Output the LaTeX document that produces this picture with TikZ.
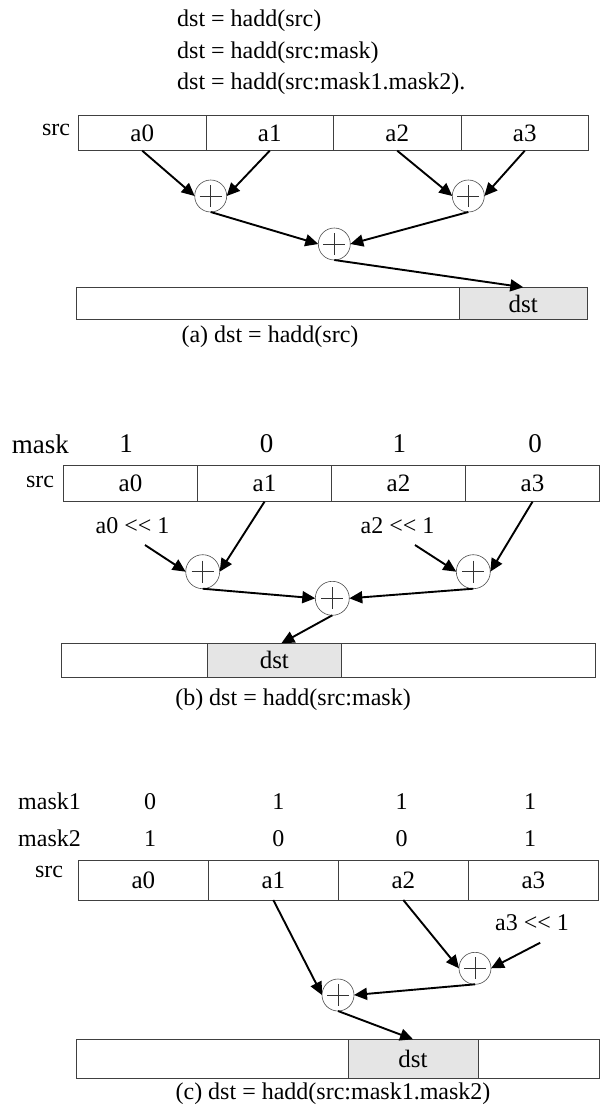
\documentclass[tikz,border=0pt]{standalone}
\usepackage{fontspec}
\setmainfont{Liberation Serif}[Ligatures=NoCommon]
\usetikzlibrary{arrows.meta,calc}
\begin{document}
\begin{tikzpicture}[x=1pt,y=-1pt,
  txt/.style={font=\fontsize{24}{28}\selectfont, inner sep=0pt},
  bigtxt/.style={font=\fontsize{27}{30}\selectfont, inner sep=0pt},
  cellbox/.style={draw=black!75, line width=0.8pt, inner sep=0pt, outer sep=0pt, font=\fontsize{25}{28}\selectfont},
  dstbox/.style={cellbox, fill=black!10},
  addnode/.style={circle, draw=black!70, line width=0.6pt, fill=white, inner sep=0pt, outer sep=0pt,
    path picture={\draw[black!80, line width=0.6pt]
      ($(path picture bounding box.center)+(-11,0)$) -- ($(path picture bounding box.center)+(11,0)$)
      ($(path picture bounding box.center)+(0,-11)$) -- ($(path picture bounding box.center)+(0,11)$);}},
  arr/.style={-{Triangle[length=13pt,width=12pt]}, line width=1.9pt}]
\useasboundingbox (0,0) rectangle (601,1106);

% ---------- header ----------
\node[txt, anchor=base west] (h1) at (177,26.5) {dst = hadd(src)};
\node[txt, anchor=base west] (h2) at (177,58.5) {dst = hadd(src:mask)};
\node[txt, anchor=base west] (h3) at (177,89.5) {dst = hadd(src:mask1.mask2).};

% ---------- panel (a) ----------
\node[txt] (srcA) at (56,130) {src};
\node[cellbox, minimum width=127.5, minimum height=35] (aA0) at (142.25,133.2) {a0};
\node[cellbox, minimum width=127.5, minimum height=35] (aA1) at (269.75,133.2) {a1};
\node[cellbox, minimum width=127.5, minimum height=35] (aA2) at (397.25,133.2) {a2};
\node[cellbox, minimum width=127.5, minimum height=35] (aA3) at (524.75,133.2) {a3};

\node[addnode, minimum size=32] (pA1) at (210.7,196) {};
\node[addnode, minimum size=32] (pA2) at (468.3,196) {};
\node[addnode, minimum size=32] (pA3) at (334.3,244) {};

\node[cellbox, minimum width=382.6, minimum height=32.5] (wA) at (268,303.5) {};
\node[dstbox, minimum width=128, minimum height=32.5] (dA) at (523.3,303.5) {dst};

\draw[arr] (aA0.south) -- (pA1.west);
\draw[arr] (aA1.south) -- (pA1.east);
\draw[arr] (aA2.south) -- (pA2.west);
\draw[arr] (aA3.south) -- (pA2.east);
\draw[arr] (pA1.south) -- (pA3.west);
\draw[arr] (pA2.south) -- (pA3.east);
\draw[arr] (pA3.south) -- (dA.north);

\node[txt] (capA) at (270,337) {(a) dst = hadd(src)};

% ---------- panel (b) ----------
\node[bigtxt, anchor=west] (maskB) at (11.7,444) {mask};
\node[bigtxt] (mB0) at (126,444) {1};
\node[bigtxt] (mB1) at (266.7,444) {0};
\node[bigtxt] (mB2) at (399.3,444) {1};
\node[bigtxt] (mB3) at (535,444) {0};

\node[txt] (srcB) at (40,482) {src};
\node[cellbox, minimum width=134, minimum height=36] (aB0) at (130.5,483.7) {a0};
\node[cellbox, minimum width=134, minimum height=36] (aB1) at (264.5,483.7) {a1};
\node[cellbox, minimum width=134, minimum height=36] (aB2) at (398.5,483.7) {a2};
\node[cellbox, minimum width=134, minimum height=36] (aB3) at (532.5,483.7) {a3};

\node[txt] (lB0) at (132.5,526) {a0 {<}{<} 1};
\node[txt] (lB2) at (397.5,526) {a2 {<}{<} 1};
\coordinate (sB0) at (145,545);
\coordinate (sB2) at (415,545);

\node[addnode, minimum size=34] (pB1) at (202.7,571.7) {};
\node[addnode, minimum size=34] (pB2) at (473.3,571.7) {};
\node[addnode, minimum size=34] (pB3) at (332.3,598.3) {};

\node[cellbox, minimum width=146.4, minimum height=34] (wB1) at (134.5,660.3) {};
\node[dstbox, minimum width=133.3, minimum height=34] (dB) at (274.35,660.3) {dst};
\node[cellbox, minimum width=254.8, minimum height=34] (wB2) at (468.4,660.3) {};

\draw[arr] (sB0) -- (pB1.west);
\draw[arr] (aB1.south) -- (pB1.east);
\draw[arr] (sB2) -- (pB2.west);
\draw[arr] (aB3.south) -- (pB2.east);
\draw[arr] (pB1.south) -- (pB3.west);
\draw[arr] (pB2.south) -- (pB3.east);
\draw[arr] (pB3.south) -- ($(dB.north)+(7,0)$);

\node[txt] (capB) at (293,700) {(b) dst = hadd(src:mask)};

% ---------- panel (c) ----------
\node[txt, anchor=west] (m1C) at (18,801.7) {mask1};
\node[txt, anchor=west] (m2C) at (18,838.3) {mask2};
\node[txt] (vC10) at (150,801.7) {0};
\node[txt] (vC11) at (278.3,801.7) {1};
\node[txt] (vC12) at (401.7,801.7) {1};
\node[txt] (vC13) at (530,801.7) {1};
\node[txt] (vC20) at (150,838.3) {1};
\node[txt] (vC21) at (278.3,838.3) {0};
\node[txt] (vC22) at (401.7,838.3) {0};
\node[txt] (vC23) at (530,838.3) {1};

\node[txt] (srcC) at (49,871.7) {src};
\node[cellbox, minimum width=130, minimum height=40] (aC0) at (143.3,880) {a0};
\node[cellbox, minimum width=130, minimum height=40] (aC1) at (273.3,880) {a1};
\node[cellbox, minimum width=130, minimum height=40] (aC2) at (403.3,880) {a2};
\node[cellbox, minimum width=130, minimum height=40] (aC3) at (533.3,880) {a3};

\node[txt] (lC3) at (532,922.7) {a3 {<}{<} 1};
\coordinate (sC3) at (540.2,942.7);

\node[addnode, minimum size=32] (pC2) at (475,968.3) {};
\node[addnode, minimum size=32] (pC1) at (338,995) {};

\node[cellbox, minimum width=272, minimum height=39] (wC1) at (211.9,1058.8) {};
\node[dstbox, minimum width=130.3, minimum height=39] (dC) at (413.05,1058.8) {dst};
\node[cellbox, minimum width=121.4, minimum height=39] (wC2) at (538.9,1058.8) {};

\draw[arr] (aC1.south) -- (pC1.west);
\draw[arr] (aC2.south) -- (pC2.west);
\draw[arr] (sC3) -- (pC2.east);
\draw[arr] (pC2.south) -- (pC1.east);
\draw[arr] (pC1.south) -- (dC.north);

\node[txt] (capC) at (333,1094) {(c) dst = hadd(src:mask1.mask2)};
\end{tikzpicture}
\end{document}
